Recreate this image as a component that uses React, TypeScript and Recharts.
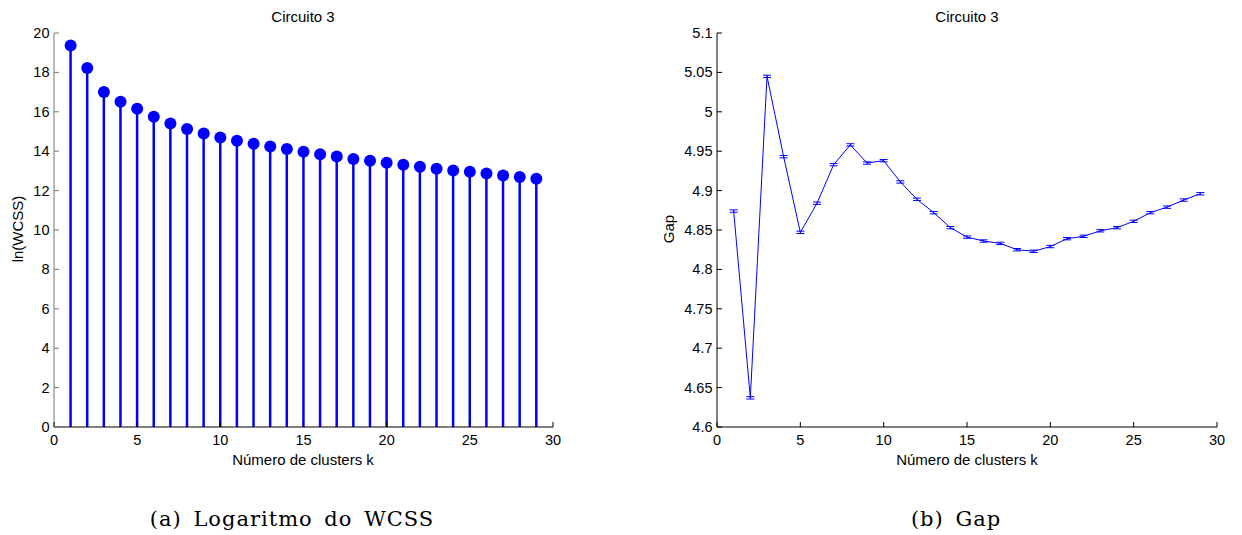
import React from "react";
import { ComposedChart, LineChart, Line, Bar, XAxis, YAxis, ErrorBar } from "recharts";

// k = 1..29
const clusters = [1, 2, 3, 4, 5, 6, 7, 8, 9, 10, 11, 12, 13, 14, 15, 16, 17, 18, 19, 20, 21, 22, 23, 24, 25, 26, 27, 28, 29];

const lnWcss = [
  19.36, 18.22, 17.0, 16.51, 16.16, 15.75, 15.41, 15.13, 14.9, 14.7, 14.53, 14.38, 14.24, 14.11, 13.97,
  13.85, 13.73, 13.61, 13.51, 13.41, 13.31, 13.21, 13.11, 13.02, 12.96, 12.87, 12.77, 12.69, 12.6,
];

const gap = [
  4.874, 4.637, 5.045, 4.943, 4.847, 4.884, 4.933, 4.958, 4.935, 4.938, 4.911, 4.889, 4.872, 4.853, 4.841,
  4.836, 4.833, 4.825, 4.823, 4.829, 4.839, 4.842, 4.849, 4.853, 4.861, 4.872, 4.879, 4.888, 4.896,
];

const gapErr = [
  0.0015, 0.0015, 0.0015, 0.0015, 0.0015, 0.0015, 0.0015, 0.0015, 0.0015, 0.0015, 0.0015, 0.0015, 0.0015, 0.0015, 0.0015,
  0.0015, 0.0015, 0.0015, 0.0015, 0.0015, 0.0015, 0.0015, 0.0015, 0.0015, 0.0015, 0.0015, 0.0015, 0.0015, 0.0015,
];

const xTicks = [0, 5, 10, 15, 20, 25, 30];
const wcssTicks = [0, 2, 4, 6, 8, 10, 12, 14, 16, 18, 20];
const gapTicks = [4.6, 4.65, 4.7, 4.75, 4.8, 4.85, 4.9, 4.95, 5, 5.05, 5.1];

const wcssData = clusters.map((k, i) => ({ k, v: lnWcss[i] }));
const gapData = clusters.map((k, i) => ({ k, v: gap[i], err: gapErr[i] }));

const BLUE = "#0000ff";
const FONT = "'Liberation Sans', Arial, Helvetica, sans-serif";
const fmt = (v: number) => String(Number(v.toFixed(2)));

function YTick(props: any) {
  const { x, y, payload, color } = props;
  return (
    <g>
      <line x1={x} y1={y} x2={x + 5} y2={y} stroke={color || "#000"} />
      <text x={x - 4.5} y={y} textAnchor="end" dominantBaseline="central" fontSize={14.5} fontFamily={FONT} fill="#000">
        {fmt(payload.value)}
      </text>
    </g>
  );
}

function XTick(props: any) {
  const { x, y, payload } = props;
  return (
    <g>
      <line x1={x} y1={y} x2={x} y2={y - 5} stroke="#000" />
      <text x={x} y={y + 13} textAnchor="middle" dominantBaseline="central" fontSize={14.5} fontFamily={FONT} fill="#000">
        {payload.value}
      </text>
    </g>
  );
}

function Txt({ x, y, children, size = 15, serif = false, rotate = false }: any) {
  return (
    <div
      style={{
        position: "absolute",
        left: x,
        top: y,
        transform: `translate(-50%, -50%)${rotate ? " rotate(-90deg)" : ""}`,
        whiteSpace: "nowrap",
        lineHeight: 1,
        fontSize: size,
        fontFamily: serif ? "'DejaVu Serif', 'Liberation Serif', serif" : FONT,
        letterSpacing: serif ? 1 : undefined,
        wordSpacing: serif ? 4 : undefined,
        color: "#000",
      }}
    >
      {children}
    </div>
  );
}

export default function App() {
  return (
    <div style={{ position: "absolute", left: 0, top: 0, width: 1242, height: 535, background: "#fff" }}>
      <div style={{ position: "absolute", left: 0, top: 0 }}>
        <ComposedChart width={620} height={535} data={wcssData} margin={{ top: 33, right: 67, bottom: 78, left: 14 }}>
          <XAxis
            dataKey="k"
            type="number"
            domain={[0, 30]}
            ticks={xTicks}
            height={30}
            tickSize={0}
            tickMargin={0}
            stroke="#000"
            tick={(p: any) => <XTick {...p} />}
          />
          <YAxis
            type="number"
            domain={[0, 20]}
            ticks={wcssTicks}
            width={40}
            tickSize={0}
            tickMargin={0}
            stroke="#777"
            tick={(p: any) => <YTick {...p} color="#777" />}
          />
          <Bar dataKey="v" barSize={2.5} fill={BLUE} isAnimationActive={false} />
          <Line
            dataKey="v"
            stroke="none"
            dot={{ r: 6, fill: BLUE, stroke: "none" }}
            activeDot={false}
            isAnimationActive={false}
          />
        </ComposedChart>
      </div>

      <div style={{ position: "absolute", left: 620, top: 0 }}>
        <LineChart width={622} height={535} data={gapData} margin={{ top: 33, right: 25, bottom: 78, left: 47 }}>
          <XAxis
            dataKey="k"
            type="number"
            domain={[0, 30]}
            ticks={xTicks}
            height={30}
            tickSize={0}
            tickMargin={0}
            stroke="#000"
            tick={(p: any) => <XTick {...p} />}
          />
          <YAxis
            type="number"
            domain={[4.6, 5.1]}
            ticks={gapTicks}
            width={50}
            tickSize={0}
            tickMargin={0}
            stroke="#000"
            tick={(p: any) => <YTick {...p} />}
          />
          <Line dataKey="v" stroke={BLUE} strokeWidth={1} dot={false} activeDot={false} isAnimationActive={false}>
            <ErrorBar dataKey="err" width={4} stroke={BLUE} strokeWidth={1} direction="y" />
          </Line>
        </LineChart>
      </div>

      <Txt x={303} y={16} size={15}>Circuito 3</Txt>
      <Txt x={303} y={459}>Número de clusters k</Txt>
      <Txt x={17} y={229} rotate>ln(WCSS)</Txt>
      <Txt x={967} y={16} size={15}>Circuito 3</Txt>
      <Txt x={967} y={459}>Número de clusters k</Txt>
      <Txt x={668} y={229} rotate>Gap</Txt>

      <Txt x={292} y={519} size={21} serif>(a) Logaritmo do WCSS</Txt>
      <Txt x={956} y={519} size={21} serif>(b) Gap</Txt>
    </div>
  );
}
